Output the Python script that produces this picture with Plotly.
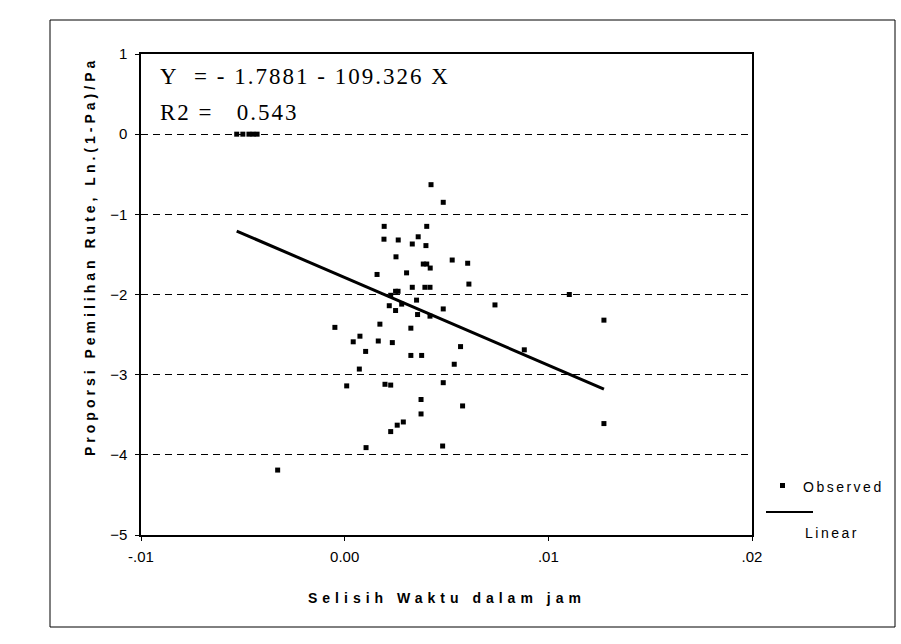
import plotly.graph_objects as go

# Observed points (Selisih Waktu dalam jam, Ln((1-Pa)/Pa))
obs_x = [-0.0053, -0.0050, -0.0047, -0.0045, -0.0043,
         0.00424, 0.00484, 0.00194, 0.00403, 0.00193, 0.00263, 0.00361, 0.00332,
         0.00399, 0.00252, 0.00528, 0.00604, 0.00386, 0.00403, 0.00420, 0.00159,
         0.00304, 0.00610, 0.00332, 0.00394, 0.00419, 0.00250, 0.00262, 0.00226,
         0.00353, 0.00219, 0.00280, 0.00250, 0.00484, 0.00738, 0.00358, 0.00419,
         -0.00048, 0.00173, 0.00325, 0.00075, 0.00042, 0.00165, 0.00234, 0.00569,
         0.00103, 0.00882, 0.00325, 0.00378, 0.00538, 0.00072, 0.00010, 0.00198,
         0.00226, 0.00484, 0.00375, 0.00579, 0.00375, 0.00288, 0.00258, 0.00226,
         0.00105, 0.00481, -0.00329, 0.01103, 0.01273, 0.01273]
obs_y = [0.0, 0.0, 0.0, 0.0, 0.0,
         -0.63, -0.85, -1.15, -1.15, -1.31, -1.32, -1.28, -1.37,
         -1.39, -1.53, -1.57, -1.61, -1.62, -1.62, -1.67, -1.75,
         -1.73, -1.87, -1.91, -1.91, -1.91, -1.96, -1.96, -2.01,
         -2.07, -2.14, -2.12, -2.20, -2.18, -2.13, -2.25, -2.27,
         -2.41, -2.37, -2.42, -2.52, -2.59, -2.58, -2.60, -2.65,
         -2.71, -2.69, -2.76, -2.76, -2.87, -2.93, -3.14, -3.12,
         -3.13, -3.10, -3.31, -3.39, -3.49, -3.59, -3.63, -3.71,
         -3.91, -3.89, -4.19, -2.00, -2.32, -3.61]

# Linear fit reported on the chart
intercept = -1.7881
slope = -109.326
r2 = 0.543

x_ticks = [-0.01, 0.0, 0.01, 0.02]
x_tick_text = ["-.01", "0.00", ".01", ".02"]
y_ticks = [1, 0, -1, -2, -3, -4, -5]

x_title = "Selisih Waktu dalam jam"
y_title = "Proporsi Pemilihan Rute, Ln.(1-Pa)/Pa"

line_x = [min(obs_x), max(obs_x)]
line_y = [intercept + slope * v for v in line_x]

# plot-area geometry in pixels (for paper-coordinate placement of extras)
L, R, T, B = 141, 752, 54, 535
W, H = R - L, B - T


def px(xp):
    return (xp - L) / W


def py(yp):
    return (B - yp) / H


def spaced(txt, ls):
    return f'<span style="letter-spacing:{ls}px">{txt}</span>'


NB = "\u00a0"

fig = go.Figure()
fig.add_trace(go.Scatter(x=obs_x, y=obs_y, mode="markers", name="Observed",
                         marker=dict(symbol="square", size=5, color="black",
                                     line=dict(width=0)),
                         showlegend=False))
fig.add_trace(go.Scatter(x=line_x, y=line_y, mode="lines", name="Linear",
                         line=dict(color="black", width=3), showlegend=False))

fig.update_layout(
    width=901, height=644,
    margin=dict(l=L, r=901 - R, t=T, b=644 - B),
    paper_bgcolor="white", plot_bgcolor="white",
    font=dict(family="Liberation Sans, Arial", size=15, color="black"),
    xaxis=dict(range=[-0.01, 0.02], tickvals=x_ticks, ticktext=x_tick_text,
               showgrid=False, zeroline=False, showline=True, linecolor="black",
               linewidth=1.5, mirror=True, ticks="outside", ticklen=4,
               tickcolor="black", tickfont=dict(size=15), ticklabelstandoff=3),
    yaxis=dict(range=[-5, 1], tickvals=y_ticks, showgrid=True, gridcolor="black",
               griddash="7px,5px", gridwidth=1, zeroline=False, showline=True,
               linecolor="black", linewidth=1.5, mirror=True, ticks="outside",
               ticklen=4, tickcolor="black", tickfont=dict(size=15),
               ticklabelstandoff=5),
)

# axis titles
fig.add_annotation(xref="paper", yref="paper", x=px((L + R) / 2), y=py(598),
                   xanchor="center", yanchor="middle", showarrow=False,
                   text="<b>" + spaced(x_title, 5) + "</b>",
                   font=dict(size=14, family="Liberation Sans, Arial"))
fig.add_annotation(xref="paper", yref="paper", x=px(90), y=py(257),
                   xanchor="center", yanchor="middle", showarrow=False, textangle=-90,
                   text="<b>" + spaced(y_title, 4) + "</b>",
                   font=dict(size=14, family="Liberation Sans, Arial"))

# equation text
eq1 = f"Y{NB*2}={NB}-{NB}{abs(intercept):.4f}{NB}-{NB}{abs(slope):.3f}{NB}X"
eq2 = f"R2{NB}={NB*3}{r2:.3f}"
fig.add_annotation(xref="paper", yref="paper", x=px(158), y=py(76), xanchor="left",
                   yanchor="middle", text=spaced(eq1, 2), showarrow=False,
                   font=dict(family="Liberation Serif, Times New Roman", size=23, color="black"))
fig.add_annotation(xref="paper", yref="paper", x=px(158), y=py(113), xanchor="left",
                   yanchor="middle", text=spaced(eq2, 2), showarrow=False,
                   font=dict(family="Liberation Serif, Times New Roman", size=23, color="black"))

# custom legend
fig.add_shape(type="rect", xref="paper", yref="paper",
              x0=px(780), x1=px(785), y0=py(488), y1=py(483),
              fillcolor="black", line=dict(width=0))
fig.add_annotation(xref="paper", yref="paper", x=px(801), y=py(487),
                   xanchor="left", yanchor="middle", text=spaced("Observed", 2.5),
                   showarrow=False, font=dict(size=14))
fig.add_shape(type="line", xref="paper", yref="paper",
              x0=px(766), x1=px(813), y0=py(512), y1=py(512),
              line=dict(color="black", width=2))
fig.add_annotation(xref="paper", yref="paper", x=px(803), y=py(533),
                   xanchor="left", yanchor="middle", text=spaced("Linear", 2.5),
                   showarrow=False, font=dict(size=14))

# outer frame
fig.add_shape(type="rect", xref="paper", yref="paper",
              x0=px(50), x1=px(895), y0=py(627), y1=py(20),
              line=dict(color="black", width=1), fillcolor="rgba(0,0,0,0)")

fig.write_html("out.html")
